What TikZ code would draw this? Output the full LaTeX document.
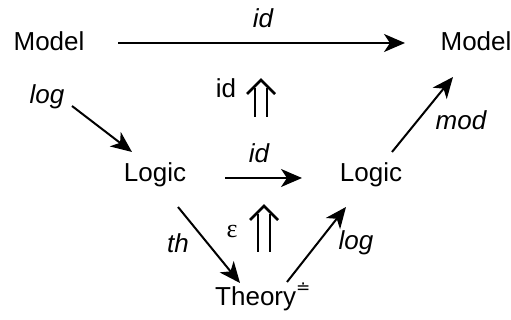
\documentclass[tikz,border=0pt]{standalone}
\usepackage{fontspec}
\setmainfont{Liberation Sans}
\newfontfamily\grfont{Liberation Serif}
\newfontfamily\dvs{DejaVu Sans}
\usetikzlibrary{arrows.meta}
\newcommand\dblup[2]{% top coordinate name, bottom coordinate name
  \draw[twocell] ([xshift=-6pt]#2) -- ([xshift=-6pt,yshift=-8pt]#1);
  \draw[twocell] ([xshift=6pt]#2) -- ([xshift=6pt,yshift=-8pt]#1);
  \draw[twocell,line join=miter] ([xshift=-14pt,yshift=-14pt]#1) -- (#1) -- ([xshift=14pt,yshift=-14pt]#1);
}
\begin{document}
\begin{tikzpicture}[x=1pt,y=-1pt,
  txt/.style={inner sep=0pt, anchor=base, font=\fontsize{26}{30}\selectfont},
  lab/.style={txt, font=\fontsize{26}{30}\selectfont\itshape},
  arr/.style={line width=2pt, -{Stealth[length=21pt,width=18pt,inset=6pt]}},
  twocell/.style={line width=2.5pt}]
\useasboundingbox (0,0) rectangle (511,320);
% objects
\node[txt] (ml) at (49,51) {Model};
\node[txt] (mr) at (476,51) {Model};
\node[txt] (ll) at (155,182) {Logic};
\node[txt] (lr) at (371,182) {Logic};
\node[txt, anchor=base west] (th) at (215,305) {Theory\raisebox{12pt}{\fontsize{17}{17}\dvs ≐}};
% connector end points
\coordinate (a1s) at (118,43);  \coordinate (a1e) at (405,43);
\coordinate (a2s) at (72,106);  \coordinate (a2e) at (132,152);
\coordinate (a3s) at (225,178); \coordinate (a3e) at (302,178);
\coordinate (a4s) at (392,152); \coordinate (a4e) at (453,77);
\coordinate (a5s) at (178,207); \coordinate (a5e) at (240,283);
\coordinate (a6s) at (287,282); \coordinate (a6e) at (346,207);
% arrows
\draw[arr] (a1s) -- (a1e);
\draw[arr] (a2s) -- (a2e);
\draw[arr] (a3s) -- (a3e);
\draw[arr] (a4s) -- (a4e);
\draw[arr] (a5s) -- (a5e);
\draw[arr] (a6s) -- (a6e);
% labels
\node[lab] (l1) at (263,28) {id};
\node[lab] (l2) at (47,104) {log};
\node[lab] (l3) at (259,163) {id};
\node[lab] (l4) at (461,130) {mod};
\node[lab] (l5) at (178,253) {th};
\node[lab] (l6) at (356,250) {log};
% 2-cells
\coordinate (u1t) at (261,80);  \coordinate (u1b) at (261,117);
\coordinate (u2t) at (264,206); \coordinate (u2b) at (264,252);
\dblup{u1t}{u1b}
\dblup{u2t}{u2b}
\node[txt] (c1) at (226,98) {id};
\node[inner sep=0pt, font=\fontsize{26}{30}\selectfont\grfont] (c2) at (232,232) {ε};
\end{tikzpicture}
\end{document}
